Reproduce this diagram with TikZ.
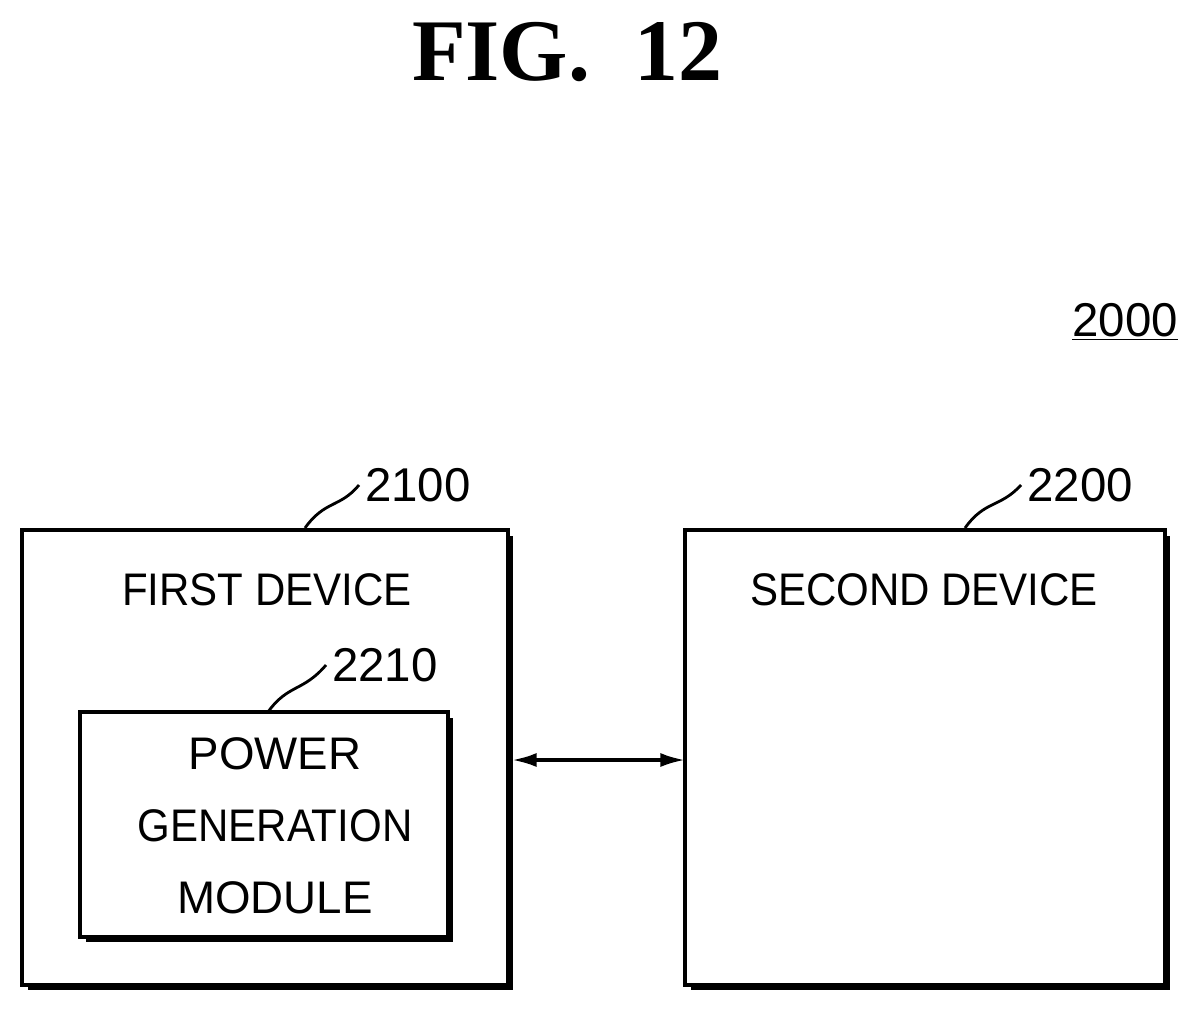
\documentclass[tikz,border=0pt]{standalone}
\usepackage{fontspec}
\setmainfont{Liberation Sans}
\newfontfamily\titlefont{Liberation Serif}
\usetikzlibrary{positioning,arrows.meta}
\tikzset{
  lbl/.style={font=\fontsize{26}{34}\selectfont},
  ref/.style={font=\fontsize{27}{32}\selectfont},
}
\begin{document}
\begin{tikzpicture}[x=0.02cm,y=-0.02cm]
    \useasboundingbox (0,0) rectangle (1202,1013);

% boxes, with shadow on right and bottom
      \foreach \name/\xa/\ya/\xb/\yb in {
		  first/22/530/508/985,
		  second/685/530/1165/985,
		  module/80/712/448/937}
	  {
		\draw[line width=2.4pt] (\xa,\ya) rectangle (\xb,\yb);
		\draw[line width=2.4pt] (\xb+3,\ya+6) -- (\xb+3,\yb+3) -- (\xa+6,\yb+3);
		\coordinate (\name) at (\xa,\ya);
		\coordinate (\name-se) at (\xb,\yb);
	  };

    \node[font=\fontsize{50}{54}\selectfont\bfseries\titlefont] (title) at (567,52) {FIG.~~12};
    \node[ref] (sys) at (1125,322) {\underline{2000}};

    \node[lbl] (firsttxt) at (267,590) {\scalebox{0.92}[1]{FIRST DEVICE}};
    \node[lbl] (secondtxt) at (924,590) {\scalebox{0.92}[1]{SECOND DEVICE}};
    \node[lbl,align=center,font=\fontsize{26}{41}\selectfont] (moduletxt) at (275,826) {POWER\\\scalebox{0.92}[1]{GENERATION}\\MODULE};

    \node[ref] (r2100) at (418,485) {2100};
    \node[ref] (r2200) at (1080,485) {2200};
    \node[ref] (r2210) at (385,665) {2210};

    \draw[line width=1.6pt] (305,528) .. controls (325,500) and (340,508) .. (r2100.west);
    \draw[line width=1.6pt] (965,528) .. controls (985,500) and (1000,508) .. (r2200.west);
    \draw[line width=1.6pt] (268,712) .. controls (288,684) and (303,692) .. (r2210.west);

    \coordinate (linkA) at (512,760);
    \coordinate (linkB) at (685,760);
    \draw[line width=2pt,{Latex[length=14pt,width=8pt]}-{Latex[length=14pt,width=8pt]}] (linkA) -- (linkB);

    \end{tikzpicture}
\end{document}
